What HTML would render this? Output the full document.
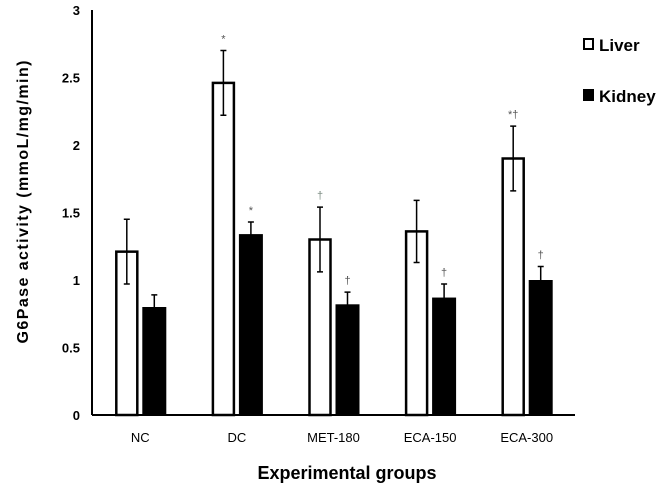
<!DOCTYPE html>
<html><head><meta charset="utf-8"><style>
body{margin:0;background:#fff;}
svg{display:block;font-family:"Liberation Sans","DejaVu Sans",sans-serif;}
</style></head><body>
<svg id="c" width="661" height="490"></svg>
<script>
const categories=["NC","DC","MET-180","ECA-150","ECA-300"];
const liver=[1.21,2.46,1.30,1.36,1.90];
const liverErr=[0.24,0.24,0.24,0.23,0.24];
const kidney=[0.80,1.34,0.82,0.87,1.00];
const kidneyErr=[0.09,0.09,0.09,0.10,0.10];
const liverMarks=["","*","†","","*†"];
const kidneyMarks=["","*","†","†","†"];
const yTicks=[0,0.5,1,1.5,2,2.5,3];
const yTickLabels=["0","0.5","1","1.5","2","2.5","3"];

const svg=document.getElementById('c');
const NS="http://www.w3.org/2000/svg";
const x0=92,x1=575,y0=415,yTop=10,yMax=3;
const y=v=>y0-(y0-yTop)*v/yMax;
const band=(x1-x0)/categories.length;
const cx=i=>x0+band*(i+0.5);
function mk(t,a,txt){const e=document.createElementNS(NS,t);for(const k in a)e.setAttribute(k,a[k]);if(txt!==undefined)e.textContent=txt;svg.appendChild(e);return e;}

let e;
e=mk('line',{x1:x0,y1:y0,x2:x0,y2:yTop,stroke:'#000','stroke-width':2});


e=mk('line',{x1:x0,y1:y0,x2:x1,y2:y0,stroke:'#000','stroke-width':2});



yTicks.forEach((v,i)=>{
 e=mk('text',{x:80,y:y(v)+5,'text-anchor':'end','font-size':13,'font-weight':'bold'},yTickLabels[i]);
 
 
});

function errBar(xc,v,err){
 e=mk('path',{d:`M${xc},${y(v+err)}V${y(v-err)}M${xc-3},${y(v+err)}H${xc+3}M${xc-3},${y(v-err)}H${xc+3}`,stroke:'#000','stroke-width':1.5,fill:'none'});
 
 
}
categories.forEach((c,i)=>{
 const c0=cx(i);
 e=mk('rect',{x:c0-24,y:y(liver[i]),width:21,height:y0-y(liver[i]),fill:'#fff',stroke:'#000','stroke-width':2.5});
 
 
 errBar(c0-13.5,liver[i],liverErr[i]);
 e=mk('rect',{x:c0+2,y:y(kidney[i]),width:24,height:y0-y(kidney[i]),fill:'#000'});
 
 
 errBar(c0+14,kidney[i],kidneyErr[i]);
 if(liverMarks[i]){e=mk('text',{x:c0-13.5,y:y(liver[i]+liverErr[i])-8,'text-anchor':'middle','font-size':11,fill:liverMarks[i]==='†'?'#7a8a80':'#555'},liverMarks[i]);
  
  }
 if(kidneyMarks[i]){e=mk('text',{x:c0+14,y:y(kidney[i]+kidneyErr[i])-8,'text-anchor':'middle','font-size':11,fill:'#555'},kidneyMarks[i]);
  
  }
 e=mk('text',{x:c0,y:442,'text-anchor':'middle','font-size':13},c);
 
 
});

e=mk('text',{x:347,y:479,'text-anchor':'middle','font-size':18,'font-weight':'bold'},'Experimental groups');


e=mk('text',{x:0,y:0,transform:'translate(28,202) rotate(-90)','text-anchor':'middle','font-size':16,'font-weight':'bold','textLength':283},'G6Pase activity (mmoL/mg/min)');



e=mk('rect',{x:584,y:39,width:9,height:10,fill:'#fff',stroke:'#000','stroke-width':2});


e=mk('text',{x:599,y:51,'font-size':17,'font-weight':'bold'},'Liver');


e=mk('rect',{x:583,y:89,width:11,height:12,fill:'#000'});


e=mk('text',{x:599,y:102,'font-size':17,'font-weight':'bold'},'Kidney');


</script>
</body></html>
